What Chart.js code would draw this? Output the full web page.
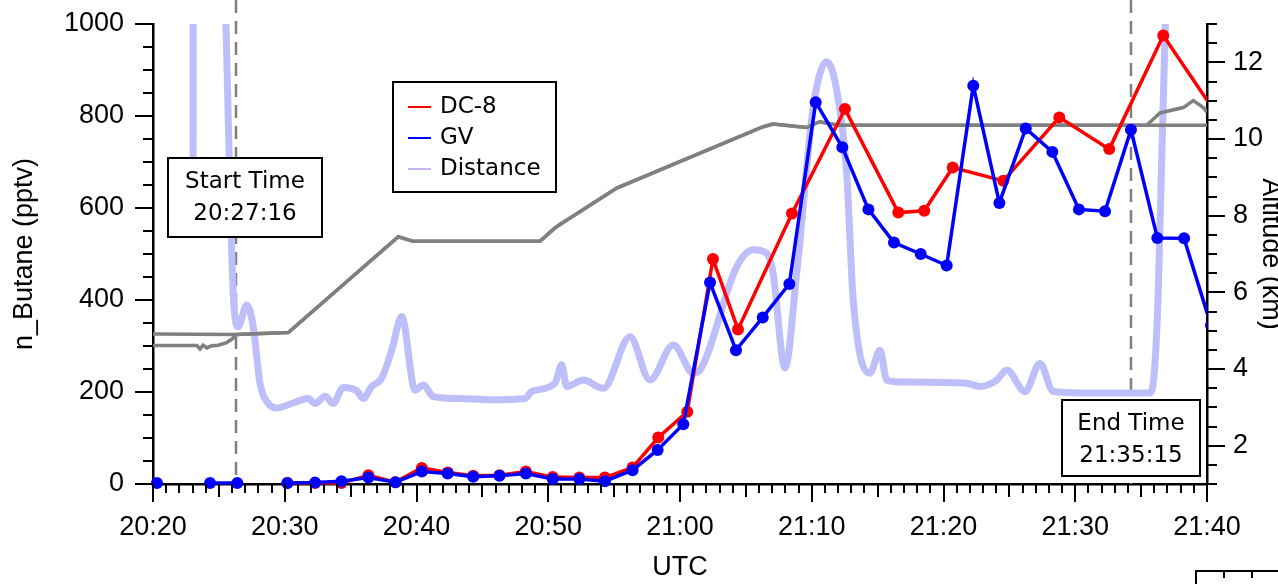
<!DOCTYPE html>
<html>
<head>
<meta charset="utf-8">
<title>n_Butane - DC-8 and GV</title>
<script src="https://cdn.jsdelivr.net/npm/chart.js@4.4.0/dist/chart.umd.min.js"></script>
<style>
  html, body { margin: 0; padding: 0; background: #fff; }
  canvas { display: block; }
</style>
</head>
<body>
<canvas id="myChart" width="1278" height="584"></canvas>
<script>
// all times are minutes after 20:00 UTC
const xTickValues = [20, 30, 40, 50, 60, 70, 80, 90, 100];
const xTickLabels = ['20:20', '20:30', '20:40', '20:50', '21:00', '21:10', '21:20', '21:30', '21:40'];
const leftTickValues = [0, 200, 400, 600, 800, 1000];
const leftTickLabels = ['0', '200', '400', '600', '800', '1000'];
const rightTickValues = [2, 4, 6, 8, 10, 12];
const rightTickLabels = ['2', '4', '6', '8', '10', '12'];

// n_Butane (pptv), GV (null = no sample, line broken)
const gvTimes = [20.3, 22.3, 24.33, 26.4, 28.3, 30.2, 32.3, 34.3, 36.35, 38.4, 40.4, 42.37, 44.3, 46.3,
  48.3, 50.34, 52.36, 54.3, 56.4, 58.3, 60.25, 62.28, 64.25, 66.28, 68.3, 70.3, 72.32, 74.3, 76.24,
  78.27, 80.24, 82.26, 84.24, 86.24, 88.26, 90.28, 92.26, 94.23, 96.23, 98.26, 100.3];
const gvButane = [2, null, 2, 2, null, 2, 3, 6, 14, 4, 27, 23, 16, 18,
  23, 11, 11, 6, 30, 74, 130, 438, 291, 362, 435, 830, 732, 597, 525,
  500, 475, 866, 611, 773, 722, 597, 593, 770, 535, 534, 345];

// n_Butane (pptv), DC-8
const dc8Times = [30.2, 32.3, 34.3, 36.35, 38.4, 40.4, 42.37, 44.3, 46.3, 48.3, 50.34, 52.36, 54.3,
  56.4, 58.35, 60.55, 62.5, 64.4, 68.5, 72.52, 76.57, 78.54, 80.7, 84.54, 88.79, 92.58, 96.68, 100.7];
const dc8Butane = [2, 2, 2, 19, 4, 35, 25, 18, 19, 27, 15, 14, 14,
  36, 101, 157, 489, 336, 588, 815, 590, 594, 688, 659, 797, 728, 975, 805];

// distance between aircraft (plotted on the left axis scale)
const distTimes = [23.04, 23.11, 25.43, 26.09, 26.47, 27.11, 27.61, 28.12, 28.75, 29.39, 30.53, 31.79,
  32.3, 33.05, 33.68, 34.44, 35.46, 35.96, 36.6, 37.36, 38.12, 38.88, 39.89, 40.52, 41.27, 43.17,
  45.71, 48.24, 48.74, 50.51, 51.02, 51.4, 52.66, 54.18, 56.2, 57.72, 59.49, 61.01, 61.52, 64.3,
  65.56, 66.58, 67.06, 67.97, 68.86, 70.12, 71.13, 71.89, 72.65, 73.15, 74.42, 75.18, 75.69, 76.7,
  81.76, 82.77, 84.04, 84.8, 86.19, 87.32, 88.33, 90.36, 95.67, 95.98, 96.28, 96.58, 96.89, 97.34];
const distValues = [600, 3000, 1113, 415, 342, 389, 342, 219, 175, 165, 175, 186,
  175, 191, 175, 210, 203, 186, 212, 230, 291, 364, 204, 215, 190, 186,
  183, 186, 201, 219, 259, 212, 226, 208, 320, 226, 302, 241, 248, 472,
  509, 502, 459, 252, 459, 820, 918, 857, 676, 400, 241, 291, 226, 222,
  219, 212, 226, 248, 201, 262, 201, 198, 198, 237, 400, 726, 1052, 1490];

// altitude (km): both aircraft share the middle of the flight
const altCommonTimes = [26.3, 30.27, 38.62, 39.76, 49.37, 50.51, 50.89, 55.2, 61.52, 66.32, 67.06,
  69.6, 70.6, 72, 95.42];
const altCommonKm = [4.9, 4.95, 7.45, 7.33, 7.33, 7.68, 7.77, 8.72, 9.63, 10.32, 10.39,
  10.3, 10.45, 10.36, 10.36];
const altStartTimesA = [20];
const altStartKmA = [4.91];
const altEndTimesA = [100];
const altEndKmA = [10.36];
const altStartTimesB = [20, 23.34, 23.57, 23.8, 24.1, 24.4, 24.93, 25.54, 26.0];
const altStartKmB = [4.61, 4.61, 4.52, 4.62, 4.55, 4.6, 4.62, 4.68, 4.78];
const altEndTimesB = [96.43, 98.2, 98.96, 99.72, 100];
const altEndKmB = [10.68, 10.82, 11.0, 10.82, 10.7];

const eventTimes = [26.3, 94.23];
const eventLabels = [['Start Time', '20:27:16'], ['End Time', '21:35:15']];

const AXIS_FONT = '"Liberation Sans", Arial, sans-serif';
const BOX_FONT = '"DejaVu Sans", sans-serif';
const toXY = (xs, ys) => xs.map((x, i) => ({ x: x, y: ys[i] }));

const altA = toXY(altStartTimesA.concat(altCommonTimes, altEndTimesA), altStartKmA.concat(altCommonKm, altEndKmA));
const altB = toXY(altStartTimesB.concat(altCommonTimes, altEndTimesB), altStartKmB.concat(altCommonKm, altEndKmB));

const dataClip = { left: 8, top: 8, right: 0, bottom: 8 };

// fixed axis box sizes so the plot area lands where the original one is
function fitVertical(width) {
  return s => { s.width = width; s.paddingTop = 0; s.paddingBottom = 0; };
}

const decorations = {
  id: 'decorations',
  beforeDatasetsDraw(chart) {
    const { ctx, chartArea: a, scales } = chart;
    ctx.save();
    ctx.strokeStyle = 'rgb(128,128,128)';
    ctx.lineWidth = 2.5;
    ctx.setLineDash([13, 8]);
    eventTimes.forEach(t => {
      const x = scales.x.getPixelForValue(t);
      ctx.beginPath();
      ctx.moveTo(x, 0);
      ctx.lineTo(x, a.bottom);
      ctx.stroke();
    });
    ctx.restore();
  },
  afterDraw(chart) {
    const { ctx, chartArea: a, scales } = chart;
    ctx.save();

    // tick marks: major / half / minor
    ctx.strokeStyle = '#000';
    ctx.lineWidth = 2;
    ctx.beginPath();
    for (let m = 20; m <= 100; m++) {
      const x = Math.round(scales.x.getPixelForValue(m));
      const len = m % 10 === 0 ? 18 : (m % 5 === 0 ? 13 : 9);
      ctx.moveTo(x, a.bottom);
      ctx.lineTo(x, a.bottom + len);
    }
    for (let v = 0; v <= 1000; v += 50) {
      const y = Math.round(scales.y.getPixelForValue(v));
      const len = v % 200 === 0 ? 18 : 10;
      ctx.moveTo(a.left, y);
      ctx.lineTo(a.left - len, y);
    }
    for (let k = 1; k <= 13; k += 0.5) {
      const y = Math.round(scales.yAlt.getPixelForValue(k));
      const len = k % 2 === 0 ? 18 : 10;
      ctx.moveTo(a.right, y);
      ctx.lineTo(a.right + len, y);
    }
    ctx.stroke();

    // axis titles
    ctx.fillStyle = '#000';
    ctx.font = '27px ' + AXIS_FONT;
    ctx.textAlign = 'center';
    ctx.textBaseline = 'middle';
    ctx.fillText('UTC', (a.left + a.right) / 2, 568);
    ctx.save();
    ctx.translate(25, (a.top + a.bottom) / 2);
    ctx.rotate(-Math.PI / 2);
    ctx.fillText('n_Butane (pptv)', 0, 0);
    ctx.restore();
    ctx.save();
    ctx.translate(1263, (a.top + a.bottom) / 2);
    ctx.rotate(Math.PI / 2);
    ctx.textBaseline = 'alphabetic';
    ctx.fillText('Altitude (km)', 0, 0);
    ctx.restore();

    // start / end boxes
    const boxes = [[168, 158, 154, 79], [1062, 400, 138, 76]];
    ctx.font = '23px ' + BOX_FONT;
    boxes.forEach((b, i) => {
      ctx.fillStyle = '#fff';
      ctx.fillRect(b[0], b[1], b[2], b[3]);
      ctx.strokeStyle = '#000';
      ctx.lineWidth = 2;
      ctx.strokeRect(b[0], b[1], b[2], b[3]);
      ctx.fillStyle = '#000';
      ctx.textAlign = 'center';
      ctx.textBaseline = 'middle';
      ctx.fillText(eventLabels[i][0], b[0] + b[2] / 2, b[1] + 24);
      ctx.fillText(eventLabels[i][1], b[0] + b[2] / 2, b[1] + 56);
    });

    // legend
    const lx = 393, ly = 82;
    ctx.fillStyle = '#fff';
    ctx.fillRect(lx, ly, 163, 110);
    ctx.strokeStyle = '#000';
    ctx.lineWidth = 2;
    ctx.strokeRect(lx, ly, 163, 110);
    ctx.textAlign = 'left';
    ctx.textBaseline = 'middle';
    chart.data.datasets.filter(d => d.inLegend).forEach((d, i) => {
      const y = ly + 25 + i * 31;
      ctx.strokeStyle = d.legendColor || d.borderColor;
      ctx.lineWidth = 2;
      ctx.beginPath();
      ctx.moveTo(lx + 15, y);
      ctx.lineTo(lx + 38, y);
      ctx.stroke();
      ctx.fillStyle = '#000';
      ctx.fillText(d.label, lx + 47, y);
    });

    // corner of the neighbouring panel
    ctx.strokeStyle = '#000';
    ctx.lineWidth = 2;
    ctx.beginPath();
    ctx.moveTo(1196, 584);
    ctx.lineTo(1196, 571);
    ctx.lineTo(1278, 571);
    ctx.moveTo(1224, 571);
    ctx.lineTo(1224, 578);
    ctx.moveTo(1252, 571);
    ctx.lineTo(1252, 578);
    ctx.stroke();

    ctx.restore();
  }
};

const tickFont = { family: AXIS_FONT, size: 27 };

new Chart(document.getElementById('myChart'), {
  type: 'line',
  data: {
    datasets: [
      {
        label: 'DC-8', inLegend: true,
        data: toXY(dc8Times, dc8Butane),
        yAxisID: 'y', order: 1, clip: dataClip,
        borderColor: '#ff0000', backgroundColor: '#ff0000',
        borderWidth: 3.5, pointRadius: 6, pointBorderWidth: 0, tension: 0
      },
      {
        label: 'GV', inLegend: true,
        data: toXY(gvTimes, gvButane),
        yAxisID: 'y', order: 0, clip: dataClip, spanGaps: false,
        borderColor: '#0000ff', backgroundColor: '#0000ff',
        borderWidth: 3.5, pointRadius: 6, pointBorderWidth: 0, tension: 0
      },
      {
        label: 'Distance', inLegend: true, legendColor: 'rgb(200,180,240)',
        data: toXY(distTimes, distValues),
        yAxisID: 'yDist', order: 3,
        borderColor: 'rgb(190,190,250)', borderWidth: 7,
        pointRadius: 0, cubicInterpolationMode: 'monotone'
      },
      {
        label: 'Altitude A',
        data: altA, yAxisID: 'yAlt', order: 2,
        borderColor: 'rgb(128,128,128)', borderWidth: 3.5, pointRadius: 0, tension: 0
      },
      {
        label: 'Altitude B',
        data: altB, yAxisID: 'yAlt', order: 2,
        borderColor: 'rgb(128,128,128)', borderWidth: 3.5, pointRadius: 0, tension: 0
      }
    ]
  },
  options: {
    responsive: false,
    animation: false,
    events: [],
    layout: { padding: { top: 24, left: 0, right: 0, bottom: 0 } },
    plugins: { legend: { display: false }, tooltip: { enabled: false } },
    scales: {
      x: {
        type: 'linear', position: 'bottom', min: 20, max: 100,
        afterFit: s => { s.height = 100; },
        afterBuildTicks: s => { s.ticks = xTickValues.map(v => ({ value: v })); },
        grid: { display: false, drawTicks: false },
        border: { display: true, color: '#000', width: 2.5 },
        ticks: {
          autoSkip: false, maxRotation: 0, padding: 27, color: '#000', font: tickFont,
          callback: (v, i) => xTickLabels[i]
        }
      },
      y: {
        type: 'linear', position: 'left', min: 0, max: 1000,
        afterFit: fitVertical(153),
        afterBuildTicks: s => { s.ticks = leftTickValues.map(v => ({ value: v })); },
        grid: { display: false, drawTicks: false },
        border: { display: true, color: '#000', width: 2.5 },
        ticks: { padding: 29, color: '#000', font: tickFont, callback: (v, i) => leftTickLabels[i] }
      },
      yAlt: {
        type: 'linear', position: 'right', min: 1, max: 13,
        afterFit: fitVertical(71),
        afterBuildTicks: s => { s.ticks = rightTickValues.map(v => ({ value: v })); },
        grid: { display: false, drawTicks: false },
        border: { display: true, color: '#000', width: 2.5 },
        ticks: { padding: 26, color: '#000', font: tickFont, callback: (v, i) => rightTickLabels[i] }
      },
      yDist: { type: 'linear', display: false, min: 0, max: 1000 }
    }
  },
  plugins: [decorations]
});
</script>
</body>
</html>
